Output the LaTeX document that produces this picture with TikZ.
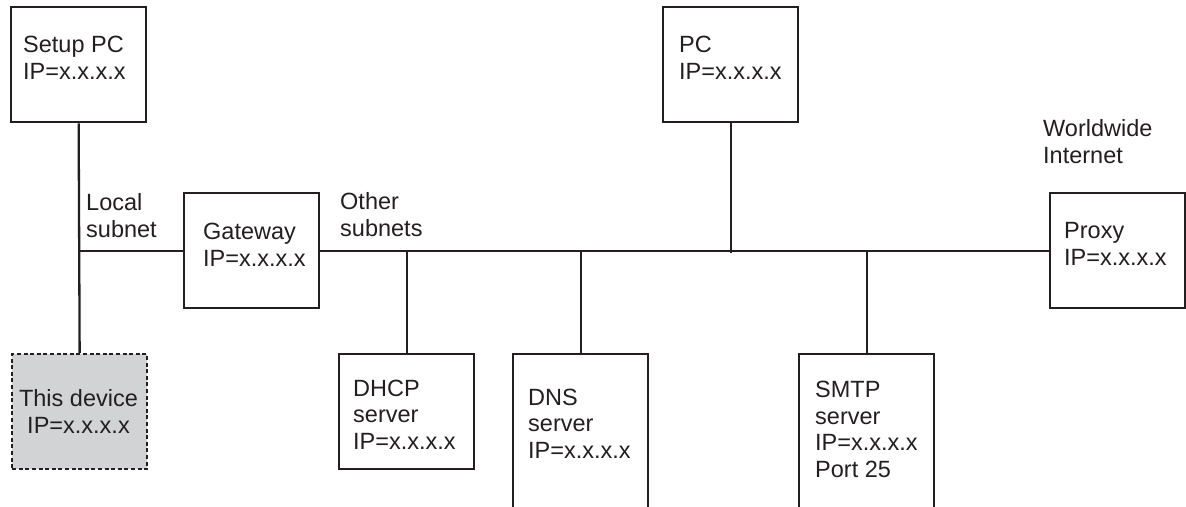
\documentclass[tikz,border=0pt]{standalone}
\usepackage{fontspec}
\setmainfont{Liberation Sans}
\definecolor{ink}{HTML}{231F20}
\definecolor{devfill}{HTML}{D1D3D4}
\begin{document}
\begin{tikzpicture}[x=1pt,y=-1pt,
  box/.style={draw=ink, line width=2.3pt, fill=white, rectangle, inner sep=0pt, minimum width=135pt, minimum height=115pt},
  devbox/.style={box, fill=devfill, dash pattern=on 4pt off 2.6pt},
  txt/.style={text=ink, inner sep=0pt, align=left, anchor=base west, font=\fontsize{23.5}{26.5}\selectfont},
  wire/.style={draw=ink, line width=2.3pt}]
\useasboundingbox (0,0) rectangle (1186,506);
\clip (0,0) rectangle (1186,506);
\fill[white] (0,0) rectangle (1186,506);
% boxes
\node[box, anchor=north west] (setup) at (10,6) {};
\node[devbox, anchor=north west] (dev) at (11,353) {};
\node[box, anchor=north west] (gw) at (183,192) {};
\node[box, anchor=north west] (pc) at (662,6) {};
\node[box, anchor=north west] (px) at (1049,192) {};
\node[box, anchor=north west] (dhcp) at (338,353) {};
\node[box, anchor=north west, minimum height=200pt] (dns) at (512,353) {};
\node[box, anchor=north west, minimum height=200pt] (smtp) at (798,353) {};
% connectors
\draw[wire] (setup.south) -- (dev.north);
\coordinate (ljoin) at (setup.south |- gw.west);
\draw[wire] (ljoin) -- (gw.west);
\draw[wire] (gw.east) -- (px.west);
\coordinate (tapdhcp) at (dhcp.north |- gw.east);
\coordinate (tapdns) at (dns.north |- gw.east);
\coordinate (tapsmtp) at (smtp.north |- gw.east);
\coordinate (tappc) at (pc.south |- gw.east);
\draw[wire] (tapdhcp) -- (dhcp.north);
\draw[wire] (tapdns) -- (dns.north);
\draw[wire] (tapsmtp) -- (smtp.north);
\draw[wire, shorten >=-2pt] (pc.south) -- (tappc);
% texts (anchor = baseline of last line)
\node[txt] (tsetup) at (23,79) {Setup PC\\IP=x.x.x.x};
\node[txt, align=center, anchor=base] (tdev) at (78.5,433) {This device\\IP=x.x.x.x};
\node[txt] (tlocal) at (86,237) {Local\\subnet};
\node[txt] (tgw) at (203,266) {Gateway\\IP=x.x.x.x};
\node[txt] (tother) at (340,236) {Other\\subnets};
\node[txt] (tdhcp) at (353,449) {DHCP\\server\\IP=x.x.x.x};
\node[txt] (tdns) at (528,458) {DNS\\server\\IP=x.x.x.x};
\node[txt] (tsmtp) at (815,477) {SMTP\\server\\IP=x.x.x.x\\Port 25};
\node[txt] (tpc) at (679,79) {PC\\IP=x.x.x.x};
\node[txt] (tww) at (1043,163) {Worldwide\\Internet};
\node[txt] (tpx) at (1064,265) {Proxy\\IP=x.x.x.x};
\end{tikzpicture}
\end{document}
